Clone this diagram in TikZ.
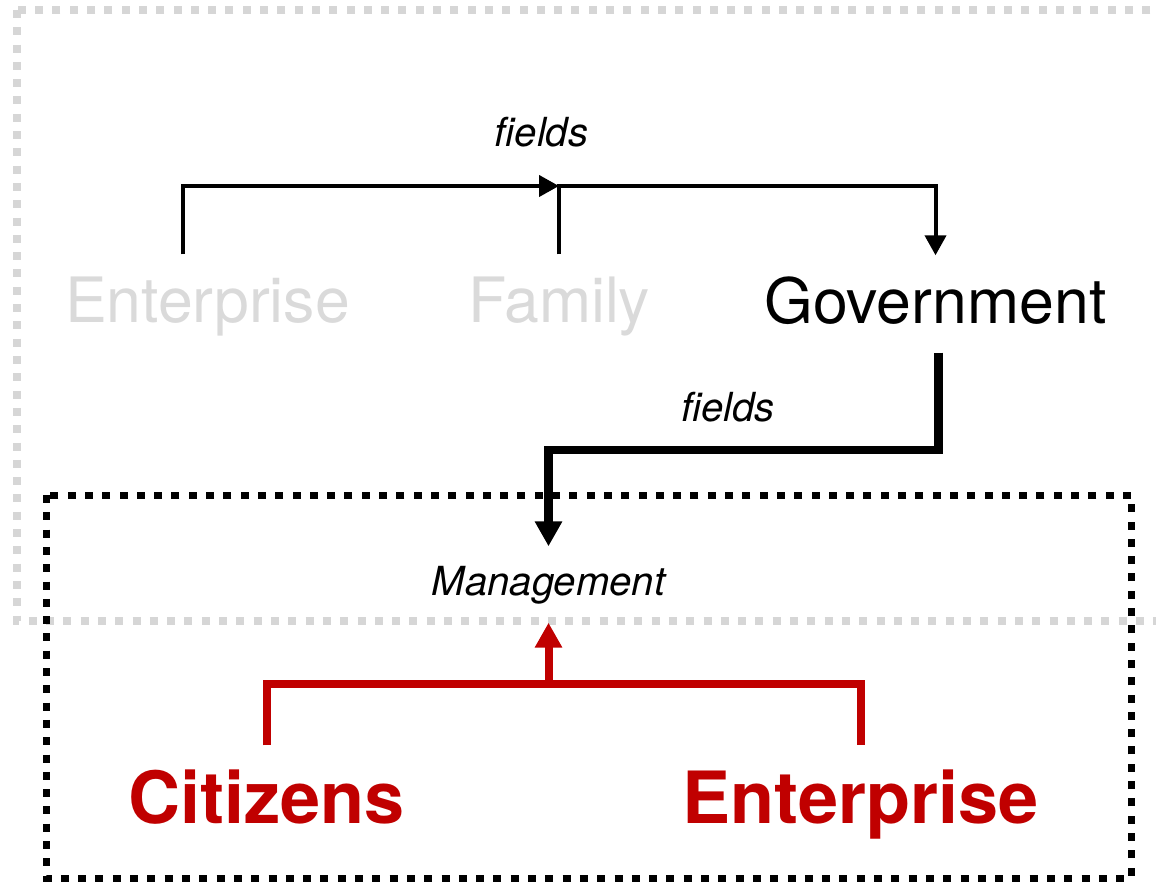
\documentclass[tikz,border=0pt]{standalone}
\usepackage{fontspec}
\setmainfont{TeX Gyre Heros}
\usetikzlibrary{arrows.meta}
\definecolor{grisclair}{HTML}{D6D6D6}
\definecolor{gristexte}{HTML}{DADADA}
\definecolor{rouge}{HTML}{C00000}

\begin{document}
\begin{tikzpicture}[>={Triangle[length=2mm,width=2.1mm]},
secteur/.style={anchor=base,font=\fontsize{17.8}{21}\selectfont,text height=4.3mm,text depth=0.5mm,inner sep=2.4mm},
acteur/.style={anchor=base,text=rouge,font=\bfseries\fontsize{20.5}{24}\selectfont,text height=5.3mm,text depth=0mm,inner sep=2.4mm},
flux/.style={anchor=base,font=\itshape\fontsize{11.4}{14}\selectfont,text height=2.7mm,text depth=0.6mm,inner sep=2.1mm},
pointille/.style={line width=0.8mm,dash pattern=on 0.8mm off 0.93mm},
grosse/.style={>={Triangle[length=2.5mm,width=2.6mm]}}]

\useasboundingbox (0,0) rectangle (11.56,-8.84);
\clip (0,0) rectangle (11.56,-8.84);

\draw[grisclair,pointille] (0.17,-0.10) rectangle (11.75,-6.21);
\draw[black,pointille,line width=0.7mm] (0.46,-4.95) rectangle (11.31,-8.78);

\node[secteur,text=gristexte] (ent) at (2.075,-3.22){Enterprise};
\node[secteur,text=gristexte] (fam) at (5.59,-3.22){Family};
\node[secteur] (gov) at (9.355,-3.23){Government};

\node[flux] (fl1) at (5.415,-1.47){fields};
\node[flux] (fl2) at (7.28,-4.21){fields};
\node[flux] (man) at (5.485,-5.95){Management};

\node[acteur] (cit) at (2.665,-8.23){Citizens};
\node[acteur] (ent2) at (8.605,-8.23){Enterprise};

\coordinate (haut) at (0,-1.86);
\coordinate (milieu) at (0,-4.50);
\coordinate (bas) at (0,-6.84);

\draw[->,line width=0.4mm]
([xshift=-2.45mm]ent.north) |- (fam.north |- haut);

\draw[->,line width=0.4mm]
(fam.north) |- (gov.north |- haut) -- (gov.north);

\draw[->,grosse,line width=0.85mm]
([xshift=0.3mm]gov.south) |- (man.north |- milieu) -- (man.north);

\draw[rouge,line width=0.8mm]
(cit.north) |- (ent2.north |- bas) -- (ent2.north);

\draw[->,grosse,rouge,line width=0.8mm]
(man.south |- bas) -- (man.south);

\end{tikzpicture}
\end{document}
